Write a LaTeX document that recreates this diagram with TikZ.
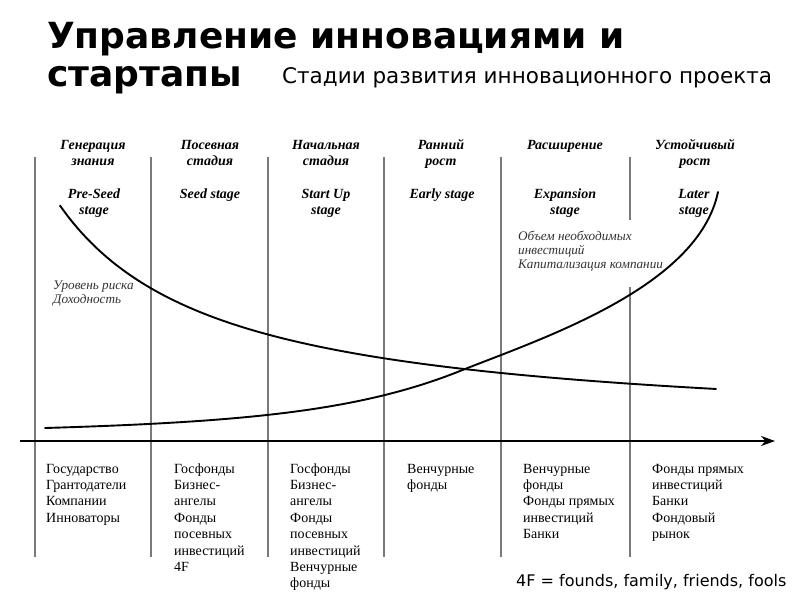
\documentclass[tikz,border=0pt]{standalone}
\usepackage{fontspec}
\setmainfont{Liberation Serif}
\newfontfamily\titlefont{DejaVu Sans}
\usetikzlibrary{arrows.meta}
\begin{document}
\begin{tikzpicture}[x=1pt,y=-1pt,
  vline/.style={draw=black!52, line width=1.1pt},
  curve/.style={line width=1.9pt, line cap=round},
  axisline/.style={line width=2pt,-{Stealth[length=14pt,width=10pt]}},
  head/.style={font=\fontsize{14}{15.5}\selectfont\bfseries\itshape, align=center, anchor=north, inner sep=0pt},
  lbl/.style={font=\fontsize{13.2}{14}\selectfont\itshape, text=black!80, align=left, anchor=north west, inner sep=0pt},
  src/.style={font=\fontsize{14}{16.4}\selectfont, align=left, anchor=north west, inner sep=0pt},
]
\useasboundingbox (0,0) rectangle (800,600);
\fill[white] (0,0) rectangle (800,600);

% title
\node[anchor=base west, inner sep=0pt, font=\titlefont\fontsize{36}{40}\selectfont\bfseries] (t1) at (47,48) {Управление инновациями и};
\node[anchor=base west, inner sep=0pt, font=\titlefont\fontsize{36}{40}\selectfont\bfseries] (t2) at (47,86) {стартапы};
\node[anchor=base west, inner sep=0pt, font=\titlefont\fontsize{21.5}{24}\selectfont] (sub) at (282,83) {Стадии развития инновационного проекта};

% vertical lines
\foreach \x in {35,151,268,384,501} {
  \draw[vline] (\x,157) -- (\x,557);
}
\draw[vline] (630,157) -- (630,220);
\draw[vline] (630,287) -- (630,557);

% axis
\coordinate (axL) at (20,441);
\coordinate (axR) at (775,441);
\draw[axisline] (axL) -- (axR);

% curves
\draw[curve] plot[domain=60:716, samples=120, smooth] (\x, {433.7 - 365/((\x+100)/100)});
\coordinate (c0) at (45,428);
\coordinate (cm) at (460,371);
\coordinate (c3) at (718,192);
\draw[curve] (c0) .. controls (245,422) and (360,411) .. (cm)
                  .. controls (540,339) and (698,288) .. (c3);

% headers
\node[head] (h1) at (93,138.5) {\strut Генерация\\знания};
\node[head] (h2) at (210,138.5) {\strut Посевная\\стадия};
\node[head] (h3) at (326,138.5) {\strut Начальная\\стадия};
\node[head] (h4) at (441,138.5) {\strut Ранний\\рост};
\node[head] (h5) at (565,138.5) {\strut Расширение};
\node[head] (h6) at (695,138.5) {\strut Устойчивый\\рост};

\node[head] (e1) at (94,187.5) {\strut Pre-Seed\\stage};
\node[head] (e2) at (210,187.5) {\strut Seed stage};
\node[head] (e3) at (326,187.5) {\strut Start Up\\stage};
\node[head] (e4) at (442,187.5) {\strut Early stage};
\node[head] (e5) at (565,187.5) {\strut Expansion\\stage};
\node[head] (e6) at (694,187.5) {\strut Later\\stage};

% italic labels
\node[lbl] (risk) at (53,279) {\strut Уровень риска\\Доходность};
\node[lbl] (inv) at (518,230) {\strut Объем необходимых\\инвестиций\\Капитализация компании};

% sources
\node[src] (s1) at (46,461.5) {\strut Государство\\Грантодатели\\Компании\\Инноваторы};
\node[src] (s2) at (174,461.5) {\strut Госфонды\\Бизнес-\\ангелы\\Фонды\\посевных\\инвестиций\\4F};
\node[src] (s3) at (290,461.5) {\strut Госфонды\\Бизнес-\\ангелы\\Фонды\\посевных\\инвестиций\\Венчурные\\фонды};
\node[src] (s4) at (407,461.5) {\strut Венчурные\\фонды};
\node[src] (s5) at (523,461.5) {\strut Венчурные\\фонды\\Фонды прямых\\инвестиций\\Банки};
\node[src] (s6) at (652,461.5) {\strut Фонды прямых\\инвестиций\\Банки\\Фондовый\\рынок};

% note
\node[anchor=base west, inner sep=0pt, font=\titlefont\fontsize{16}{18}\selectfont] (note) at (516,586) {4F = founds, family, friends, fools};
\end{tikzpicture}
\end{document}
